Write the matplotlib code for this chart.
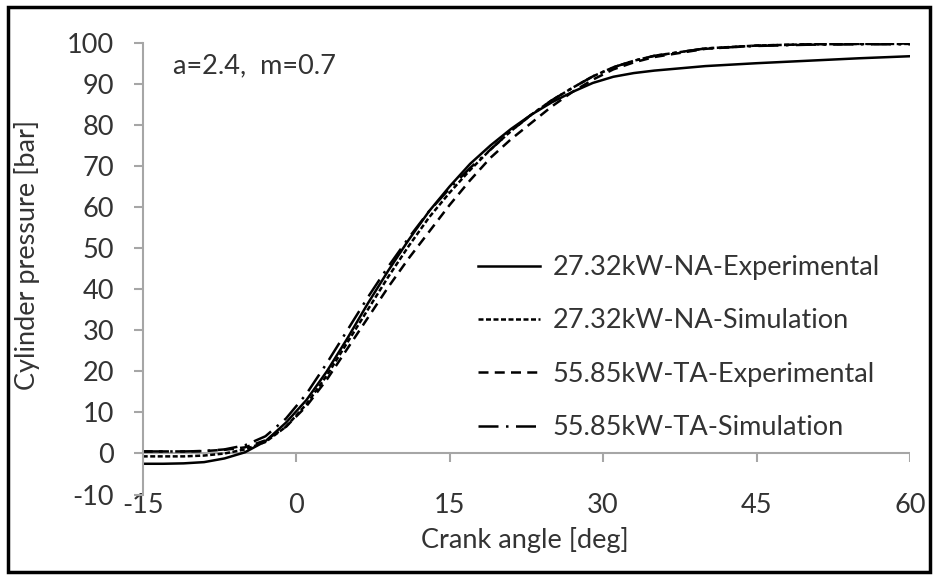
import numpy as np
import matplotlib
matplotlib.use("Agg")
import matplotlib.pyplot as plt
from matplotlib.patches import Rectangle

plt.rcParams['font.family'] = ['Lato', 'DejaVu Sans']
plt.rcParams['axes.unicode_minus'] = False

# crank angle [deg]
angle = [-15, -13, -11, -9, -7, -5, -3, -1, 1, 3, 5, 7, 9, 11, 13, 15, 17, 19,
         21, 23, 25, 27, 29, 31, 33, 35, 40, 45, 50, 55, 60]

# cylinder pressure [bar]
na_exp = [-2.5, -2.5, -2.4, -2.1, -1.2, 0.3, 3.0, 7.5, 13.0, 20.0, 28.0, 36.5, 44.5,
          52.0, 59.0, 65.0, 70.5, 75.0, 79.0, 82.5, 85.5, 88.0, 90.2, 91.7, 92.6, 93.2,
          94.3, 95.0, 95.6, 96.2, 96.7]
na_sim = [-0.7, -0.7, -0.7, -0.5, 0.0, 1.0, 2.8, 6.5, 12.0, 19.0, 27.0, 35.0, 43.0,
          50.5, 57.5, 63.5, 69.0, 74.0, 78.5, 82.5, 86.0, 89.0, 91.8, 94.0, 95.6, 96.8,
          98.6, 99.3, 99.6, 99.7, 99.7]
ta_exp = [0.5, 0.5, 0.5, 0.6, 0.9, 1.5, 3.2, 6.5, 11.5, 18.0, 25.5, 33.0, 40.5,
          47.5, 54.0, 60.5, 66.5, 72.0, 76.5, 80.5, 84.5, 88.0, 91.0, 93.5, 95.2, 96.5,
          98.5, 99.3, 99.6, 99.7, 99.8]
ta_sim = [0.5, 0.5, 0.5, 0.6, 1.0, 2.0, 4.2, 8.5, 14.5, 22.0, 30.0, 38.0, 45.5,
          52.5, 59.0, 64.5, 69.5, 74.0, 78.5, 82.5, 86.0, 89.0, 91.8, 94.0, 95.6, 96.8,
          98.6, 99.2, 99.5, 99.6, 99.6]

labels = ['27.32kW-NA-Experimental', '27.32kW-NA-Simulation',
          '55.85kW-TA-Experimental', '55.85kW-TA-Simulation']
xticks = [-15, 0, 15, 30, 45, 60]
yticks = list(range(-10, 101, 10))

fig = plt.figure(figsize=(9.37, 5.79), dpi=100)
ax = fig.add_axes([0.1523, 0.1458, 0.8189, 0.7805])

fs = 19.5
txt = '#333333'
grey = '#a6a6a6'

ax.plot(angle, na_exp, color='black', lw=1.8, ls='-', label=labels[0])
ax.plot(angle, na_sim, color='black', lw=1.8, ls=(0, (2, 1)), label=labels[1])
ax.plot(angle, ta_exp, color='black', lw=1.8, ls=(0, (4, 2.5)), label=labels[2])
ax.plot(angle, ta_sim, color='black', lw=1.8, ls=(0, (8, 3, 1, 3)), label=labels[3])

ax.set_xlim(-15, 60)
ax.set_ylim(-10, 100)
ax.set_xticks(xticks)
ax.set_yticks(yticks)

for s in ['top', 'right', 'bottom']:
    ax.spines[s].set_visible(False)
ax.spines['left'].set_color(grey)
ax.spines['left'].set_linewidth(1.5)

# horizontal axis line at zero with tick marks below it
ax.axhline(0, color=grey, lw=1.5, zorder=1)
ax.vlines(xticks, -2.1, 0, color=grey, lw=1.5, zorder=1)

ax.tick_params(axis='y', direction='out', length=6.5, width=1.5, color=grey,
               pad=14, labelsize=fs, labelcolor=txt)
ax.tick_params(axis='x', length=0, pad=-1, labelsize=fs, labelcolor=txt)

fig.text(27 / 937, 1 - 255 / 579, 'Cylinder pressure [bar]', rotation=90,
         ha='center', va='center', fontsize=fs, color=txt)
fig.text(525 / 937, 1 - 540 / 579, 'Crank angle [deg]', ha='center', va='center',
         fontsize=fs, color=txt)
ax.text(173 / 937, 1 - 66 / 579, 'a=2.4,  m=0.7', transform=fig.transFigure,
        ha='left', va='center', fontsize=fs, color=txt)

fig.legend(loc='upper left', bbox_to_anchor=(478 / 937, 1 - 255 / 579),
           frameon=False, fontsize=fs, handlelength=2.3, handletextpad=0.45,
           labelspacing=1.05, borderpad=0, borderaxespad=0, labelcolor=txt)

fig.patches.append(Rectangle((8 / 937, 7 / 579), 922 / 937, 565 / 579,
                             transform=fig.transFigure, fill=False,
                             edgecolor='black', lw=2.5))

fig.savefig('out.png', dpi=100)
